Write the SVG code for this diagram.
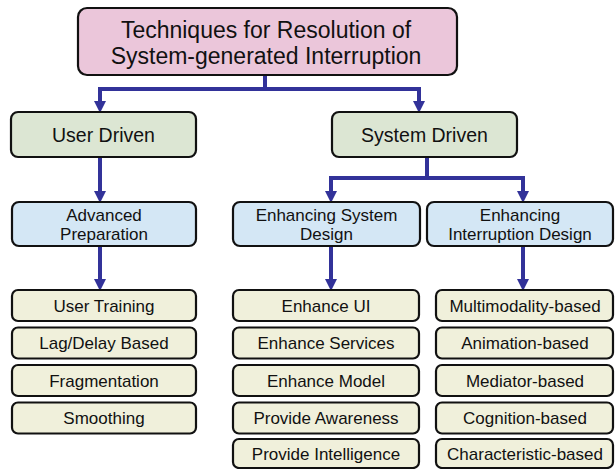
<svg xmlns="http://www.w3.org/2000/svg" width="615" height="469" viewBox="0 0 615 469">
<style>
  rect { stroke: #111; stroke-width: 2.2; }
  .root { fill: #EBC6DA; }
  .l1 { fill: #DCE6D3; }
  .l2 { fill: #D4E7F5; }
  .leaf { fill: #F0F0DB; }
  text { font-family: "Liberation Sans", Arial, sans-serif; fill: #111; text-anchor: middle; }
  .t0 { font-size: 23px; }
  .t1 { font-size: 19.5px; }
  .t2 { font-size: 17px; }
  .conn path { fill: none; stroke: #323299; stroke-width: 4; }
</style>
<defs>
  <marker id="ah" markerUnits="userSpaceOnUse" markerWidth="12" markerHeight="12" viewBox="0 0 10 10" refX="0" refY="5" orient="auto">
    <path d="M0,0 L10,5 L0,10 z" fill="#323299"/>
  </marker>
</defs>

<g class="conn" id="connectors">
  <path d="M265,75 V89 M98,89 H421"/>
  <path d="M100,89 V101" marker-end="url(#ah)"/>
  <path d="M419,89 V101" marker-end="url(#ah)"/>
  <path d="M100,157 V191" marker-end="url(#ah)"/>
  <path d="M427,157 V178 M329,178 H525"/>
  <path d="M331,178 V191" marker-end="url(#ah)"/>
  <path d="M523,178 V191" marker-end="url(#ah)"/>
  <path d="M100,246 V279" marker-end="url(#ah)"/>
  <path d="M331,246 V279" marker-end="url(#ah)"/>
  <path d="M523,246 V279" marker-end="url(#ah)"/>
</g>

<g id="root">
  <rect class="root" x="78" y="8" width="379" height="67" rx="9"/>
  <text class="t0" x="266" y="38">Techniques for Resolution of</text>
  <text class="t0" x="266" y="64">System-generated Interruption</text>
</g>

<g id="user-driven">
  <rect class="l1" x="11" y="112" width="185" height="45" rx="7"/>
  <text class="t1" x="103.5" y="141.5">User Driven</text>
</g>
<g id="system-driven">
  <rect class="l1" x="332" y="112" width="185" height="45" rx="7"/>
  <text class="t1" x="424.5" y="141.5">System Driven</text>
</g>

<g id="advanced-preparation">
  <rect class="l2" x="12" y="202" width="184" height="44" rx="7"/>
  <text class="t2" x="104" y="221">Advanced</text>
  <text class="t2" x="104" y="240">Preparation</text>
</g>
<g id="enhancing-system-design">
  <rect class="l2" x="233" y="202" width="187" height="44" rx="7"/>
  <text class="t2" x="326.5" y="221">Enhancing System</text>
  <text class="t2" x="326.5" y="240">Design</text>
</g>
<g id="enhancing-interruption-design">
  <rect class="l2" x="427" y="202" width="186" height="44" rx="7"/>
  <text class="t2" x="520" y="221">Enhancing</text>
  <text class="t2" x="520" y="240">Interruption Design</text>
</g>

<g id="user-training">
  <rect class="leaf" x="12" y="290" width="184" height="31" rx="6"/>
  <text class="t2" x="104" y="311.5">User Training</text>
</g>
<g id="lag-delay">
  <rect class="leaf" x="12" y="327.5" width="184" height="31" rx="6"/>
  <text class="t2" x="104" y="349">Lag/Delay Based</text>
</g>
<g id="fragmentation">
  <rect class="leaf" x="12" y="365" width="184" height="31" rx="6"/>
  <text class="t2" x="104" y="386.5">Fragmentation</text>
</g>
<g id="smoothing">
  <rect class="leaf" x="12" y="402.5" width="184" height="31" rx="6"/>
  <text class="t2" x="104" y="424">Smoothing</text>
</g>

<g id="enhance-ui">
  <rect class="leaf" x="233" y="290" width="186" height="31" rx="6"/>
  <text class="t2" x="326" y="311.5">Enhance UI</text>
</g>
<g id="enhance-services">
  <rect class="leaf" x="233" y="327.5" width="186" height="31" rx="6"/>
  <text class="t2" x="326" y="349">Enhance Services</text>
</g>
<g id="enhance-model">
  <rect class="leaf" x="233" y="365" width="186" height="31" rx="6"/>
  <text class="t2" x="326" y="386.5">Enhance Model</text>
</g>
<g id="provide-awareness">
  <rect class="leaf" x="233" y="402.5" width="186" height="31" rx="6"/>
  <text class="t2" x="326" y="424">Provide Awareness</text>
</g>
<g id="provide-intelligence">
  <rect class="leaf" x="233" y="439" width="186" height="29" rx="6"/>
  <text class="t2" x="326" y="460">Provide Intelligence</text>
</g>

<g id="multimodality">
  <rect class="leaf" x="436" y="290" width="177" height="31" rx="6"/>
  <text class="t2" x="525" y="311.5">Multimodality-based</text>
</g>
<g id="animation">
  <rect class="leaf" x="436" y="327.5" width="177" height="31" rx="6"/>
  <text class="t2" x="525" y="349">Animation-based</text>
</g>
<g id="mediator">
  <rect class="leaf" x="436" y="365" width="177" height="31" rx="6"/>
  <text class="t2" x="525" y="386.5">Mediator-based</text>
</g>
<g id="cognition">
  <rect class="leaf" x="436" y="402.5" width="177" height="31" rx="6"/>
  <text class="t2" x="525" y="424">Cognition-based</text>
</g>
<g id="characteristic">
  <rect class="leaf" x="436" y="439" width="177" height="29" rx="6"/>
  <text class="t2" x="525" y="460">Characteristic-based</text>
</g>
</svg>
